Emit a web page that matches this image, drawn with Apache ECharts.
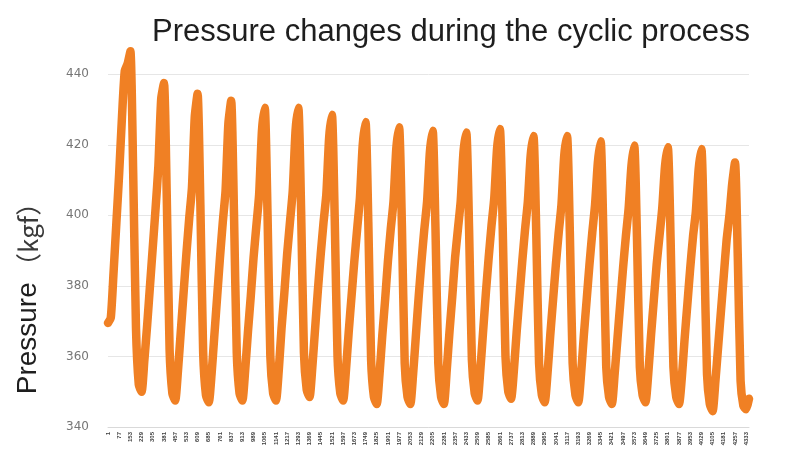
<!DOCTYPE html>
<html>
<head>
<meta charset="utf-8">
<title>Pressure changes during the cyclic process</title>
<script src="https://cdn.jsdelivr.net/npm/echarts@6/dist/echarts.min.js"></script>
<style>
  html, body { margin: 0; padding: 0; background: #fff; }
  #chart { width: 808px; height: 459px; }
</style>
</head>
<body>
<div id="chart"></div>
<script>
// 压力数据（kgf），按循环分行：先是起始上升段，然后每行 = 峰值之后的下降 + 下一次上升
const pressureKgf = [
  369.5, 371, 384, 398, 412, 428, 441, 443, 446.5,
  412, 368, 352, 350, 359, 369, 380, 391, 402, 414, 433, 437.5,
  405, 362, 349.5, 347.5, 356, 367, 378, 389, 399, 408, 428, 434.5,
  403, 361, 349, 347, 355, 366, 377, 388, 398, 407, 426, 432.5,
  401, 361, 349.5, 347.5, 356, 367, 377, 388, 397, 406, 424, 430.5,
  400, 360, 349.5, 347.5, 356, 368, 378, 389, 398, 407, 424, 430.5,
  401, 361, 350.5, 348.5, 357, 368, 379, 389, 398, 406, 422, 428.5,
  399, 360, 349.5, 347.5, 356, 367, 377, 387, 396, 405, 420, 426.5,
  398, 359, 348.5, 346.5, 355, 366, 376, 387, 396, 404, 419, 425,
  397, 358, 348.5, 346.5, 355, 366, 377, 387, 396, 404, 418, 424,
  396, 358, 348.5, 346.5, 356, 367, 377, 388, 396, 404, 418, 423.5,
  396, 359, 349.5, 347.5, 356, 367, 378, 388, 397, 405, 419, 424.5,
  397, 360, 350, 348, 356, 367, 377, 387, 396, 404, 417, 422.5,
  395, 358, 349, 347, 355, 366, 376, 386, 395, 403, 417, 422.5,
  395, 358, 349, 347, 355, 366, 376, 386, 395, 403, 415, 421,
  394, 357, 348.5, 346.5, 355, 365, 375, 385, 394, 402, 414, 419.8,
  393, 357, 349, 347, 355, 366, 376, 386, 394, 402, 414, 419.3,
  393, 357, 348.5, 346.5, 354, 365, 375, 385, 394, 401, 413, 418.8,
  391, 355, 346.5, 344.5, 353, 363, 373, 383, 393, 400, 409, 415,
  388, 353, 346, 345, 348
];

// x轴：采样序号（原图标签太小无法辨认，按序号显示）
const sampleStep = 19;
const sampleNo = pressureKgf.map((v, i) => String(1 + i * sampleStep));

// y轴刻度范围
const yMin = 340;
const yMax = 450;
const yStep = 20;

const chart = echarts.init(document.getElementById("chart"));
chart.setOption({
  animation: false,
  title: {
    text: "Pressure changes during the cyclic process",
    left: 147,
    top: 12,
    textStyle: {
      fontFamily: "Liberation Sans",
      fontSize: 31,
      fontWeight: "normal",
      color: "#1e1e1e"
    }
  },
  grid: {
    left: 108,
    right: 59,
    top: 39,
    bottom: 32
  },
  xAxis: {
    type: "category",
    data: sampleNo,
    boundaryGap: false,
    axisLine: { lineStyle: { color: "#d9d9d9", width: 1 } },
    axisTick: { show: false },
    axisLabel: {
      interval: 3,
      rotate: 90,
      fontSize: 6,
      fontWeight: "bold",
      color: "#404040",
      margin: 5
    }
  },
  yAxis: {
    type: "value",
    min: yMin,
    max: yMax,
    interval: yStep,
    name: "{a|Pressure} {b|（kgf）}",
    nameLocation: "middle",
    nameGap: 66,
    nameTextStyle: {
      padding: [0, 118, 0, 0],
      rich: {
        a: { fontFamily: "Liberation Sans", fontSize: 28, color: "#1e1e1e" },
        b: { fontFamily: "Noto Sans CJK SC", fontSize: 26, color: "#3a3a3a" }
      }
    },
    axisLine: { show: false },
    axisTick: { show: false },
    axisLabel: {
      showMaxLabel: false,
      fontFamily: "DejaVu Sans",
      fontSize: 12,
      color: "#767676",
      margin: 19
    },
    splitLine: {
      showMaxLine: false,
      lineStyle: { color: "#e6e6e6", width: 1 }
    }
  },
  series: [
    {
      name: "Pressure",
      type: "line",
      data: pressureKgf,
      showSymbol: false,
      smooth: 0.2,
      lineStyle: { color: "#f08024", width: 8.5, cap: "round", join: "round" },
      itemStyle: { color: "#f08024" }
    }
  ]
});
</script>
</body>
</html>
